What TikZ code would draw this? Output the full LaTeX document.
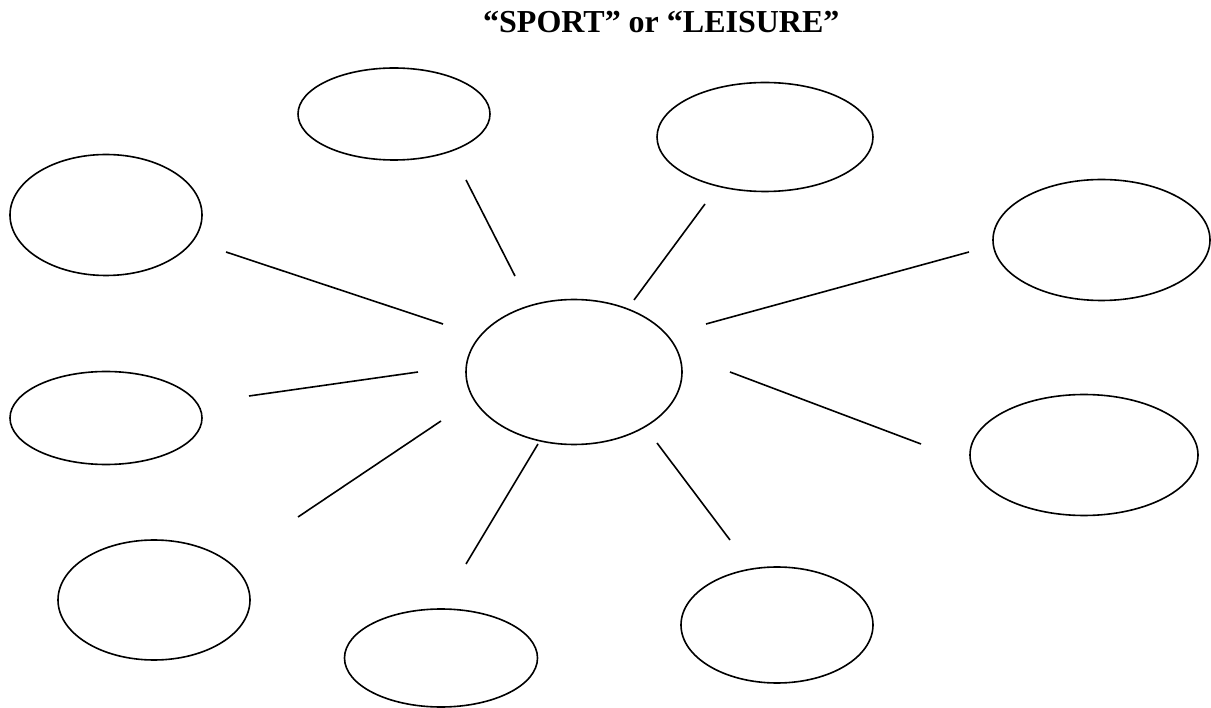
\documentclass[tikz,border=0pt]{standalone}
\usepackage{fontspec}
\setmainfont{Liberation Serif}
\usetikzlibrary{shapes.geometric}
\begin{document}
\begin{tikzpicture}[x=1pt,y=-1pt,
  bubble/.style={draw=black,line width=1.6pt,ellipse,inner sep=0pt},
  spoke/.style={draw=black,line width=1.6pt}]
\useasboundingbox (0,0) rectangle (1211,708);
\node[anchor=base west,font=\bfseries\fontsize{32}{36}\selectfont,inner sep=0pt] (title) at (483,33) {“SPORT” or “LEISURE”};
% ellipses: center, width, height
\node[bubble,minimum width=216pt,minimum height=145pt] (c) at (574,372) {};
\node[bubble,minimum width=192pt,minimum height=92pt] (e1) at (394,114) {};
\node[bubble,minimum width=216pt,minimum height=109pt] (e2) at (765,137) {};
\node[bubble,minimum width=192pt,minimum height=121pt] (e3) at (106,215) {};
\node[bubble,minimum width=217pt,minimum height=121pt] (e4) at (1101.5,240) {};
\node[bubble,minimum width=192pt,minimum height=93pt] (e5) at (106,418) {};
\node[bubble,minimum width=228pt,minimum height=121pt] (e6) at (1084,455) {};
\node[bubble,minimum width=192pt,minimum height=120pt] (e7) at (154,600) {};
\node[bubble,minimum width=193pt,minimum height=98pt] (e8) at (441,658) {};
\node[bubble,minimum width=192pt,minimum height=116pt] (e9) at (777,625) {};
% spoke ends
\coordinate (a1) at (466,180); \coordinate (b1) at (515,276);
\coordinate (a2) at (705,204); \coordinate (b2) at (634,300);
\coordinate (a3) at (226,252); \coordinate (b3) at (443,324);
\coordinate (a4) at (969,252); \coordinate (b4) at (706,324);
\coordinate (a5) at (249,396); \coordinate (b5) at (418,372);
\coordinate (a6) at (921,444); \coordinate (b6) at (730,372);
\coordinate (a7) at (298,517); \coordinate (b7) at (441,421);
\coordinate (a8) at (466,564); \coordinate (b8) at (538,444);
\coordinate (a9) at (730,540); \coordinate (b9) at (657,443);
\foreach \i in {1,...,9} {\draw[spoke] (a\i) -- (b\i);}
\end{tikzpicture}
\end{document}
